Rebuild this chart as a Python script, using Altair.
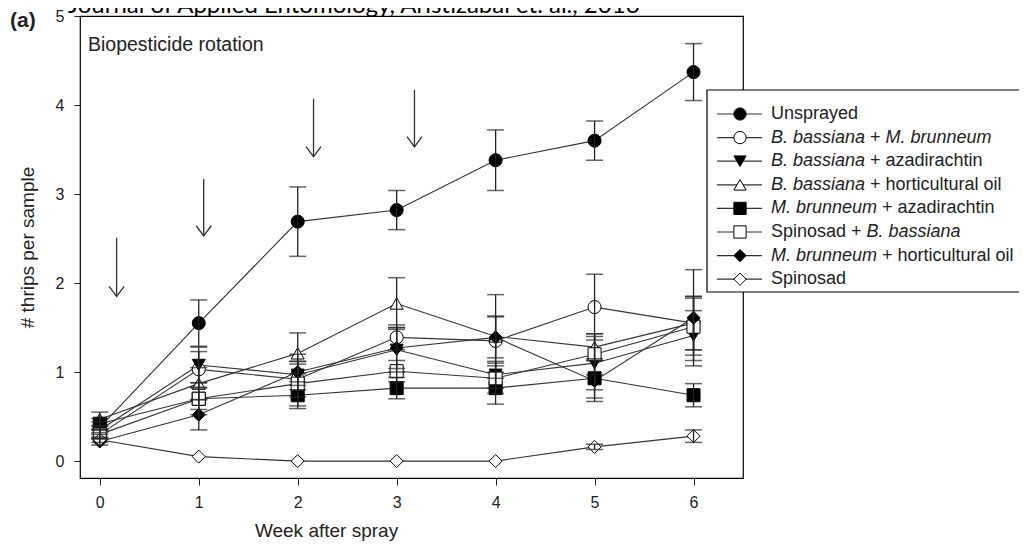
import altair as alt
import pandas as pd

weeks = [0, 1, 2, 3, 4, 5, 6]
series_names = [
    "Unsprayed",
    "B. bassiana + M. brunneum",
    "B. bassiana + azadirachtin",
    "B. bassiana + horticultural oil",
    "M. brunneum + azadirachtin",
    "Spinosad + B. bassiana",
    "M. brunneum + horticultural oil",
    "Spinosad",
]
unsprayed_mean = [0.38, 1.55, 2.69, 2.82, 3.38, 3.60, 4.37]
unsprayed_se = [0.06, 0.26, 0.39, 0.22, 0.34, 0.22, 0.32]
bb_mb_mean = [0.30, 1.03, 0.92, 1.39, 1.35, 1.73, 1.55]
bb_mb_se = [0.05, 0.20, 0.20, 0.14, 0.28, 0.37, 0.30]
bb_aza_mean = [0.35, 1.08, 0.97, 1.25, 0.97, 1.10, 1.41]
bb_aza_se = [0.05, 0.20, 0.12, 0.25, 0.15, 0.30, 0.28]
bb_oil_mean = [0.47, 0.87, 1.21, 1.77, 1.40, 1.28, 1.55]
bb_oil_se = [0.08, 0.18, 0.23, 0.29, 0.47, 0.15, 0.30]
mb_aza_mean = [0.42, 0.70, 0.74, 0.82, 0.82, 0.93, 0.74]
mb_aza_se = [0.06, 0.18, 0.15, 0.12, 0.18, 0.22, 0.13]
sp_bb_mean = [0.30, 0.70, 0.87, 1.01, 0.93, 1.20, 1.51]
sp_bb_se = [0.05, 0.12, 0.25, 0.12, 0.17, 0.23, 0.32]
mb_oil_mean = [0.22, 0.52, 1.00, 1.27, 1.39, 0.90, 1.61]
mb_oil_se = [0.04, 0.17, 0.20, 0.23, 0.23, 0.23, 0.54]
spinosad_mean = [0.24, 0.05, 0.00, 0.00, 0.00, 0.16, 0.28]
spinosad_se = [0.03, 0.00, 0.00, 0.00, 0.00, 0.03, 0.07]

# spray arrows
arrow_week = [0.17, 1.05, 2.16, 3.18]
arrow_top = [2.51, 3.17, 4.07, 4.17]
arrow_bottom = [1.85, 2.53, 3.42, 3.53]

shapes = ["circle", "circle", "triangle-down", "triangle-up", "square", "square", "diamond", "diamond"]
fills = ["black", "white", "black", "white", "black", "white", "black", "white"]

legend_parts = [
    [("Unsprayed", False)],
    [("B. bassiana", True), (" + ", False), ("M. brunneum", True)],
    [("B. bassiana", True), (" + azadirachtin", False)],
    [("B. bassiana", True), (" + horticultural oil", False)],
    [("M. brunneum", True), (" + azadirachtin", False)],
    [("Spinosad + ", False), ("B. bassiana", True)],
    [("M. brunneum", True), (" + horticultural oil", False)],
    [("Spinosad", False)],
]

means = [unsprayed_mean, bb_mb_mean, bb_aza_mean, bb_oil_mean, mb_aza_mean, sp_bb_mean, mb_oil_mean, spinosad_mean]
ses = [unsprayed_se, bb_mb_se, bb_aza_se, bb_oil_se, mb_aza_se, sp_bb_se, mb_oil_se, spinosad_se]

rows = []
for name, m, s in zip(series_names, means, ses):
    for w, v, e in zip(weeks, m, s):
        rows.append({"series": name, "week": w, "mean": v, "lo": v - e, "hi": v + e, "se": e})
df = pd.DataFrame(rows)
err_df = df[df["se"] > 0]

arrows = pd.DataFrame({"week": arrow_week, "top": arrow_top, "bottom": arrow_bottom})

# ---- layout constants (pixels) ----
W, H = 663, 462
LEG_FS = 18
ARIAL = {" ": 278, ".": 278, "+": 584, "B": 667, "M": 833, "S": 667, "U": 722,
         "a": 556, "b": 556, "c": 500, "d": 556, "e": 556, "f": 278, "g": 556, "h": 556,
         "i": 222, "l": 222, "m": 833, "n": 556, "o": 556, "p": 556, "r": 333, "s": 500,
         "t": 278, "u": 556, "y": 500, "z": 500}


def tw(t):
    return sum(ARIAL.get(c, 556) for c in t) / 1000.0 * LEG_FS


leg_x_line0, leg_x_line1, leg_x_mark, leg_x_text = 637, 682, 660, 691
leg_y0, leg_dy = 98, 23.6

leg_rows = []
seg_rows = []
for i, (name, parts) in enumerate(zip(series_names, legend_parts)):
    ly = leg_y0 + i * leg_dy
    leg_rows.append({"series": name, "ly": ly, "lx0": leg_x_line0, "lx1": leg_x_line1, "mx": leg_x_mark})
    x = leg_x_text
    for text, ital in parts:
        stripped = text.lstrip(" ")
        x += tw(text[: len(text) - len(stripped)])
        core = stripped.rstrip(" ")
        seg_rows.append({"t": core, "tx": x, "ty": ly, "italic": ital})
        x += tw(stripped)
leg_df = pd.DataFrame(leg_rows)
seg_df = pd.DataFrame(seg_rows)

xscale = alt.Scale(domain=[-0.2, 6.5], nice=False, zero=False)
yscale = alt.Scale(domain=[-0.19, 5], nice=False, zero=False)
shape_scale = alt.Scale(domain=series_names, range=shapes)
fill_scale = alt.Scale(domain=series_names, range=fills)

xaxis = alt.Axis(values=weeks, format="d", tickSize=7, labelPadding=9, labelFontSize=16,
                 labelColor="#222", tickColor="#222", domain=False, grid=False,
                 title="Week after spray", titleFontSize=19, titleFontWeight="normal",
                 titleX=246, titleY=52, titleBaseline="middle", titleColor="#222")
yaxis = alt.Axis(values=[0, 1, 2, 3, 4, 5], format="d", tickSize=6, labelPadding=10, labelFontSize=16,
                 labelColor="#222", tickColor="#222", domain=False, grid=False,
                 title="# thrips per sample", titleFontSize=19, titleFontWeight="normal",
                 titleX=-53, titleY=231, titleAngle=270, titleAlign="center",
                 titleBaseline="middle", titleColor="#222")

base = alt.Chart(df).encode(
    x=alt.X("week:Q", scale=xscale, axis=xaxis),
    y=alt.Y("mean:Q", scale=yscale, axis=yaxis),
)

lines = base.mark_line(color="#333", strokeWidth=1.1).encode(detail="series:N")

points = base.mark_point(filled=True, size=170, stroke="black", strokeWidth=1, opacity=1).encode(
    shape=alt.Shape("series:N", scale=shape_scale, legend=None),
    fill=alt.Fill("series:N", scale=fill_scale, legend=None),
)

err_base = alt.Chart(err_df).encode(x=alt.X("week:Q", scale=xscale, axis=xaxis))
err_rule = err_base.mark_rule(color="#222", strokeWidth=1.3).encode(
    y=alt.Y("lo:Q", scale=yscale, axis=yaxis), y2="hi:Q")
cap_lo = err_base.mark_tick(orient="horizontal", size=17, thickness=1.5, color="#222").encode(
    y=alt.Y("lo:Q", scale=yscale, axis=yaxis))
cap_hi = err_base.mark_tick(orient="horizontal", size=17, thickness=1.5, color="#222").encode(
    y=alt.Y("hi:Q", scale=yscale, axis=yaxis))

arrow_base = alt.Chart(arrows).encode(x=alt.X("week:Q", scale=xscale, axis=xaxis))
arrow_shaft = arrow_base.mark_rule(color="#333", strokeWidth=1.3).encode(
    y=alt.Y("top:Q", scale=yscale, axis=yaxis), y2="bottom:Q")
arrow_head = arrow_base.mark_point(shape="M-1,-1.35L0,0L1,-1.35", size=225, filled=False,
                                   color="#333", strokeWidth=1.3, opacity=1).encode(
    y=alt.Y("bottom:Q", scale=yscale, axis=yaxis))

one = pd.DataFrame({"k": [0]})
panel_title = alt.Chart(one).mark_text(text="Biopesticide rotation", align="left", baseline="alphabetic",
                                       fontSize=19.5, color="#222").encode(
    x=alt.value(8), y=alt.value(35))
top_note = alt.Chart(one).mark_text(text="Journal of Applied Entomology, Aristizabal et. al., 2016",
                                    align="left", baseline="alphabetic", font="Lato",
                                    fontSize=24, color="black").encode(
    x=alt.value(-12), y=alt.value(-3))
panel_label = alt.Chart(one).mark_text(text="(a)", align="left", baseline="alphabetic",
                                       fontSize=21, fontWeight="bold", color="#222").encode(
    x=alt.value(-70), y=alt.value(11))

legend_box = alt.Chart(one).mark_rect(fill="white", stroke="black", strokeWidth=1.2).encode(
    x=alt.value(627), x2=alt.value(980), y=alt.value(74), y2=alt.value(276))

leg_base = alt.Chart(leg_df)
leg_lines = leg_base.mark_rule(color="#333", strokeWidth=1.2).encode(
    x=alt.X("lx0:Q", scale=None), x2="lx1:Q", y=alt.Y("ly:Q", scale=None))
leg_points = leg_base.mark_point(filled=True, size=150, stroke="black", strokeWidth=1, opacity=1).encode(
    x=alt.X("mx:Q", scale=None), y=alt.Y("ly:Q", scale=None),
    shape=alt.Shape("series:N", scale=shape_scale, legend=None),
    fill=alt.Fill("series:N", scale=fill_scale, legend=None),
)
seg_base = alt.Chart(seg_df).encode(
    x=alt.X("tx:Q", scale=None), y=alt.Y("ty:Q", scale=None), text="t:N")
leg_text_it = seg_base.mark_text(align="left", baseline="middle", fontSize=LEG_FS,
                                 fontStyle="italic", color="#222").transform_filter("datum.italic")
leg_text_rm = seg_base.mark_text(align="left", baseline="middle", fontSize=LEG_FS,
                                 color="#222").transform_filter("!datum.italic")

chart = alt.layer(
    lines, points, err_rule, cap_lo, cap_hi, arrow_shaft, arrow_head,
    panel_title, top_note, panel_label,
    legend_box, leg_lines, leg_points, leg_text_it, leg_text_rm,
).properties(
    width=W, height=H,
    autosize=alt.AutoSizeParams(type="none"),
    padding={"left": 72, "top": 8, "right": 276, "bottom": 70},
).configure(font="Liberation Sans").configure_view(stroke="black", strokeWidth=1.2)

chart.save("out.html", embed_options={"renderer": "svg", "actions": False})
